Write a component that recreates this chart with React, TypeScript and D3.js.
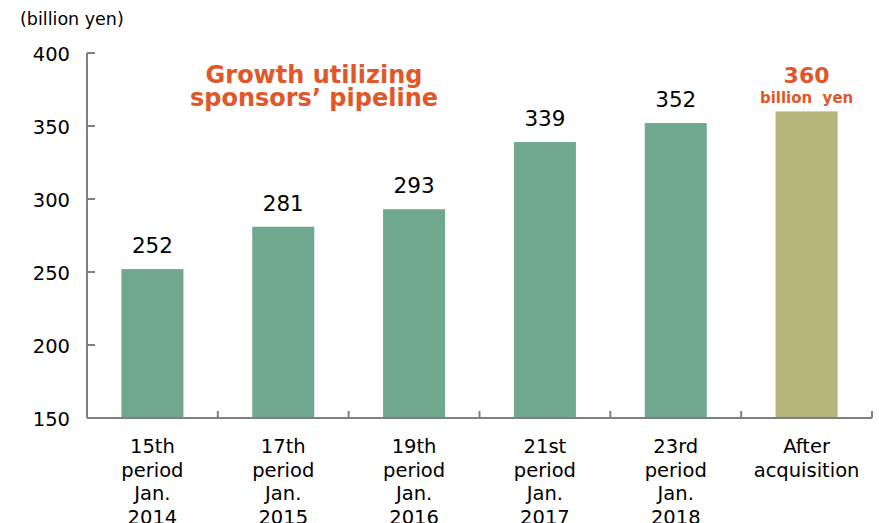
import React from "react";
import * as d3 from "d3";

const categories: string[][] = [
  ["15th", "period", "Jan.", "2014"],
  ["17th", "period", "Jan.", "2015"],
  ["19th", "period", "Jan.", "2016"],
  ["21st", "period", "Jan.", "2017"],
  ["23rd", "period", "Jan.", "2018"],
  ["After", "acquisition"],
];
const values: number[] = [252, 281, 293, 339, 352, 360];
const yTicks: number[] = [150, 200, 250, 300, 350, 400];
const unitLabel = "(billion yen)";
const titleLines = ["Growth utilizing", "sponsors\u2019 pipeline"];
const lastLabel = ["360", "billion  yen"];

const W = 879;
const H = 523;
const left = 87;
const right = 872;
const top = 53;
const bottom = 418;
const FONT = "Verdana, 'DejaVu Sans', sans-serif";
const GREEN = "#6fa78f";
const OLIVE = "#b6b67a";
const ORANGE = "#e0582a";
const AXIS = "#808080";

export default function App() {
  const x = d3
    .scaleBand<number>()
    .domain(values.map((_, i) => i))
    .range([left, right])
    .paddingInner(0.526)
    .paddingOuter(0.263);
  const band = d3.scaleBand<number>().domain(values.map((_, i) => i)).range([left, right]);
  const y = d3.scaleLinear().domain([150, 400]).range([bottom, top]);
  const last = values.length - 1;

  return (
    <svg width={W} height={H} style={{ position: "absolute", left: 0, top: 0 }} fontFamily={FONT}>
      <rect width={W} height={H} fill="#fff" />
      <text x={20} y={25} fontSize={17.5} fill="#000">{unitLabel}</text>
      {yTicks.map((t) => (
        <g key={t}>
          <text x={70} y={y(t) + 7.5} fontSize={19.5} textAnchor="end" fill="#000">{t}</text>
          <line x1={left} x2={left + 8} y1={y(t)} y2={y(t)} stroke={AXIS} strokeWidth={2} />
        </g>
      ))}
      {values.map((v, i) => (
        <rect
          key={i}
          x={x(i)!}
          y={y(v)}
          width={x.bandwidth()}
          height={bottom - y(v)}
          fill={i === last ? OLIVE : GREEN}
        />
      ))}
      <line x1={left} x2={left} y1={top} y2={bottom} stroke={AXIS} strokeWidth={2} />
      <line x1={left} x2={right} y1={bottom} y2={bottom} stroke={AXIS} strokeWidth={2} />
      {values.map((_, i) => (
        <line
          key={i}
          x1={band(i)! + band.bandwidth()}
          x2={band(i)! + band.bandwidth()}
          y1={bottom}
          y2={bottom - 7}
          stroke={AXIS}
          strokeWidth={2}
        />
      ))}
      {values.map((v, i) =>
        i === last ? null : (
          <text key={i} x={x(i)! + x.bandwidth() / 2} y={y(v) - 16} fontSize={21.5} textAnchor="middle" fill="#000">
            {v}
          </text>
        )
      )}
      <text x={x(last)! + x.bandwidth() / 2} y={83} fontSize={22} fontWeight="bold" textAnchor="middle" fill={ORANGE}>
        {lastLabel[0]}
      </text>
      <text x={x(last)! + x.bandwidth() / 2} y={103} fontSize={15} fontWeight="bold" textAnchor="middle" fill={ORANGE} style={{ whiteSpace: "pre" }}>
        {lastLabel[1]}
      </text>
      {titleLines.map((t, i) => (
        <text key={i} x={314} y={83 + i * 23} fontSize={24} fontWeight="bold" textAnchor="middle" fill={ORANGE}>
          {t}
        </text>
      ))}
      {categories.map((lines, i) =>
        lines.map((l, j) => (
          <text key={i + "-" + j} x={band(i)! + band.bandwidth() / 2} y={453 + j * 23.7} fontSize={19.5} textAnchor="middle" fill="#000">
            {l}
          </text>
        ))
      )}
    </svg>
  );
}
